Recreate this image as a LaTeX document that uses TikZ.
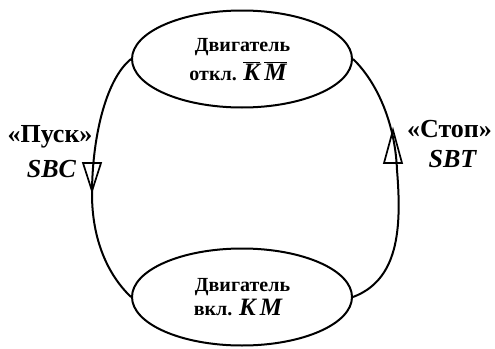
\documentclass[tikz,border=0pt]{standalone}
\usepackage{fontspec}
\setmainfont{Liberation Serif}
\usetikzlibrary{shapes.geometric}
\begin{document}
\begin{tikzpicture}[x=1pt,y=-1pt,
  every path/.style={line width=2pt},
  state/.style={draw,ellipse,minimum width=220pt,minimum height=97pt,inner sep=0pt},
  stxt/.style={font=\bfseries\fontsize{20}{20}\selectfont,inner sep=0pt,anchor=base},
  lbl/.style={font=\bfseries\fontsize{26}{26}\selectfont,inner sep=0pt,anchor=base},
  kmf/.style={},
  tri/.style={draw,line width=1.7pt,fill=none,line join=miter}]
\useasboundingbox (0,0) rectangle (495,348);
\node[state] (off) at (242,59) {};
\node[state] (on) at (242,297) {};
\node[stxt] (off1) at (242.5,51.5) {Двигатель};
\node[stxt] (off2) at (238,80) {откл. {\fontsize{25}{25}\selectfont$\overline{\hbox{\bfseries\itshape K}}\,\overline{\hbox{\bfseries\itshape M}}$}};
\node[stxt] (on1) at (242.5,291.5) {Двигатель};
\node[stxt] (on2) at (238,315) {вкл. {\itshape\fontsize{25}{25}\selectfont K\,M}};
\coordinate (lm) at (92,194);
\coordinate (rm) at (397,170);
\draw (off.west) .. controls (105,80) and (92,140) .. (lm)
      .. controls (92,240) and (108,275) .. (on.west);
\draw (off.east) .. controls (375,80) and (395,120) .. (rm)
      .. controls (402,230) and (398,280) .. (on.east);
\node[lbl] (pusk) at (50,142) {«Пуск»};
\node[lbl,font=\bfseries\itshape\fontsize{26}{26}\selectfont] (sbc) at (51.5,177) {SBC};
\node[lbl] (stop) at (449.5,137) {«Стоп»};
\node[lbl,font=\bfseries\itshape\fontsize{26}{26}\selectfont] (sbt) at (452.5,167) {SBT};
\draw[tri] (83,163) -- (101,163) -- (92,191) -- cycle;
\draw[tri] (393,130) -- (402,163) -- (384,163) -- cycle;
\end{tikzpicture}
\end{document}
